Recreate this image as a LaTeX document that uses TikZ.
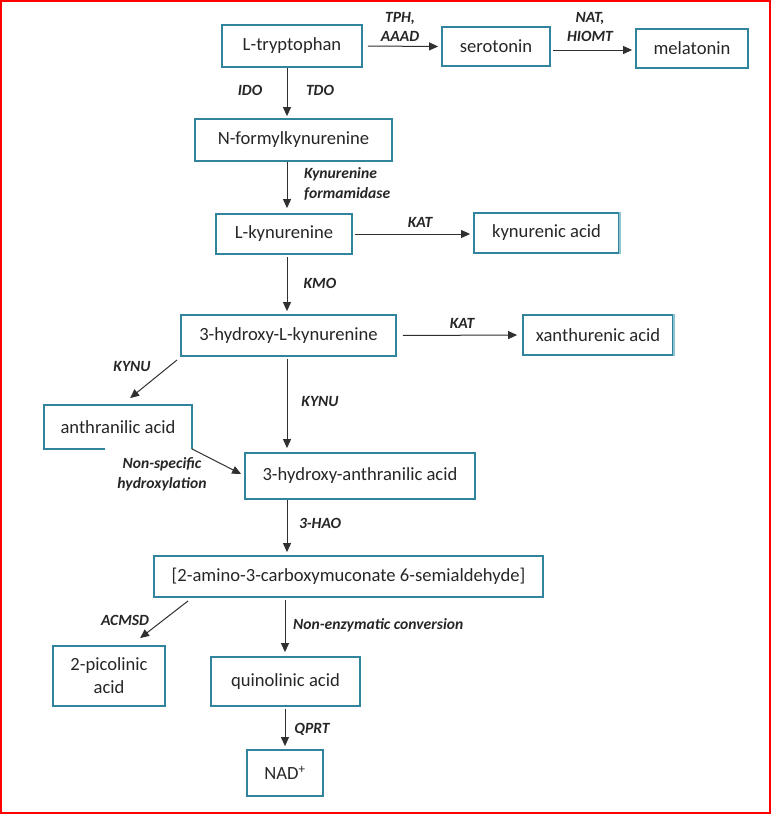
\documentclass[tikz,border=0pt]{standalone}
\usepackage{fontspec}
\setmainfont{Carlito}
\usetikzlibrary{arrows.meta,calc}
\definecolor{boxc}{HTML}{31849B}
\definecolor{boxl}{HTML}{8CC4D2}
\definecolor{txt}{HTML}{262626}
\definecolor{arrc}{HTML}{303030}
\begin{document}
\begin{tikzpicture}[x=1pt,y=-1pt,
  box/.style={draw=boxc, line width=1.8pt, inner sep=0pt, text=txt,
    font=\fontsize{18.6}{23}\selectfont, align=center},
  nobox/.style={box, draw=none},
  lab/.style={font=\fontsize{15.6}{19.5}\selectfont\bfseries\itshape, text=txt,
    inner sep=0pt, align=center},
  arr/.style={draw=arrc, line width=1pt, -{Triangle[length=9pt,width=8pt]},
    shorten <=2pt, shorten >=3pt},
  ]
\useasboundingbox (0,0) rectangle (771,814);
\draw[red, line width=2pt] (1,1) rectangle (769.5,812.5);

% nodes
\node[box, minimum width=140pt, minimum height=42pt] (tryp) at (292,46) {L-tryptophan};
\node[box, minimum width=108pt, minimum height=39pt] (sero) at (496,46.5) {serotonin};
\node[box, minimum width=112pt, minimum height=39pt] (mela) at (692,48.5) {melatonin};
\node[box, minimum width=197pt, minimum height=42pt] (nfk) at (293.5,140) {N-formylkynurenine};
\node[box, minimum width=136pt, minimum height=40pt] (lkyn) at (284,234) {L-kynurenine};
\node[box, minimum width=145pt, minimum height=40pt] (kyna) at (546.5,233) {kynurenic acid};
\node[box, minimum width=215pt, minimum height=41pt] (hk) at (288.5,335.5) {3-hydroxy-L-kynurenine};
\node[box, minimum width=150pt, minimum height=40pt] (xa) at (598,335) {xanthurenic acid};
\node[nobox, minimum width=146pt, minimum height=42pt] (anth) at (118,427) {anthranilic acid};
\node[box, minimum width=230pt, minimum height=46pt] (haa) at (360,476) {3-hydroxy-anthranilic acid};
\node[box, minimum width=389pt, minimum height=41pt] (acms) at (348.5,576.5) {[2-amino-3-carboxymuconate 6-semialdehyde]};
\node[box, minimum width=112pt, minimum height=60pt] (pic) at (109,676) {2-picolinic\\acid};
\node[box, minimum width=149pt, minimum height=49pt] (quin) at (285.5,681.5) {quinolinic acid};
\node[box, minimum width=76pt, minimum height=46pt] (nad) at (285,773) {NAD\textsuperscript{+}};

% lighter right edges
\draw[boxl, line width=1.8pt] (kyna.north east) -- (kyna.south east);
\draw[boxl, line width=1.8pt] (xa.north east) -- (xa.south east);
% partial border of anthranilic acid
\draw[boxc, line width=1.8pt] ([xshift=61pt]anth.south west) -- (anth.south west)
  -- (anth.north west) -- (anth.north east) -- (anth.south east);

\coordinate (col) at (287,0);
\coordinate (colb) at (285,0);

% arrows
\draw[arr, shorten <=5pt] (tryp.east) -- (sero.west);
\draw[arr] ($(sero.east |- mela.west)+(0,1.5)$) -- ($(mela.west)+(0,1.5)$);
\draw[arr, shorten <=0pt, shorten >=2pt] (tryp.south -| col) -- (nfk.north -| col);
\draw[arr, shorten <=0pt, shorten >=5pt] (nfk.south -| col) -- (lkyn.north -| col);
\draw[arr] (lkyn.east) -- (kyna.west |- lkyn.east);
\draw[arr, shorten >=3pt] (lkyn.south -| col) -- (hk.north -| col);
\draw[arr, shorten <=6pt, shorten >=5pt] (hk.east) -- (xa.west);
\draw[arr, shorten <=0pt, shorten >=0pt] ([shift={(-3,3)}]hk.south west) -- ([shift={(86,-7)}]anth.north west);
\draw[arr, shorten >=4pt] (hk.south -| col) -- (haa.north -| col);
\draw[arr, shorten <=0pt, shorten >=0pt] (anth.south east) -- ([shift={(-3,-2)}]haa.west);
\draw[arr, shorten <=0pt] (haa.south -| col) -- (acms.north -| col);
\draw[arr, shorten <=0pt, shorten >=0pt] ([shift={(35,3)}]acms.south west) -- ([shift={(88,-7)}]pic.north west);
\draw[arr, shorten >=4pt] (acms.south -| colb) -- (quin.north -| colb);
\draw[arr] (quin.south -| colb) -- (nad.north -| colb);

% labels
\node[lab] (l1) at (400,27) {TPH,\\AAAD};
\node[lab] (l2) at (590,27) {NAT,\\HIOMT};
\node[lab] (l3) at (250,90) {IDO};
\node[lab] (l4) at (320,90) {TDO};
\node[lab, anchor=west, align=left] (l5) at (304,184) {Kynurenine\\formamidase};
\node[lab] (l6) at (420,222) {KAT};
\node[lab] (l7) at (320,283) {KMO};
\node[lab] (l8) at (462,323) {KAT};
\node[lab] (l9) at (132,366) {KYNU};
\node[lab] (l10) at (320,401) {KYNU};
\node[lab] (l11) at (162,474) {Non-specific\\hydroxylation};
\node[lab] (l12) at (320,523) {3-HAO};
\node[lab] (l13) at (125,620) {ACMSD};
\node[lab, anchor=west] (l14) at (293,625) {Non-enzymatic conversion};
\node[lab] (l15) at (312,729) {QPRT};
\end{tikzpicture}
\end{document}
